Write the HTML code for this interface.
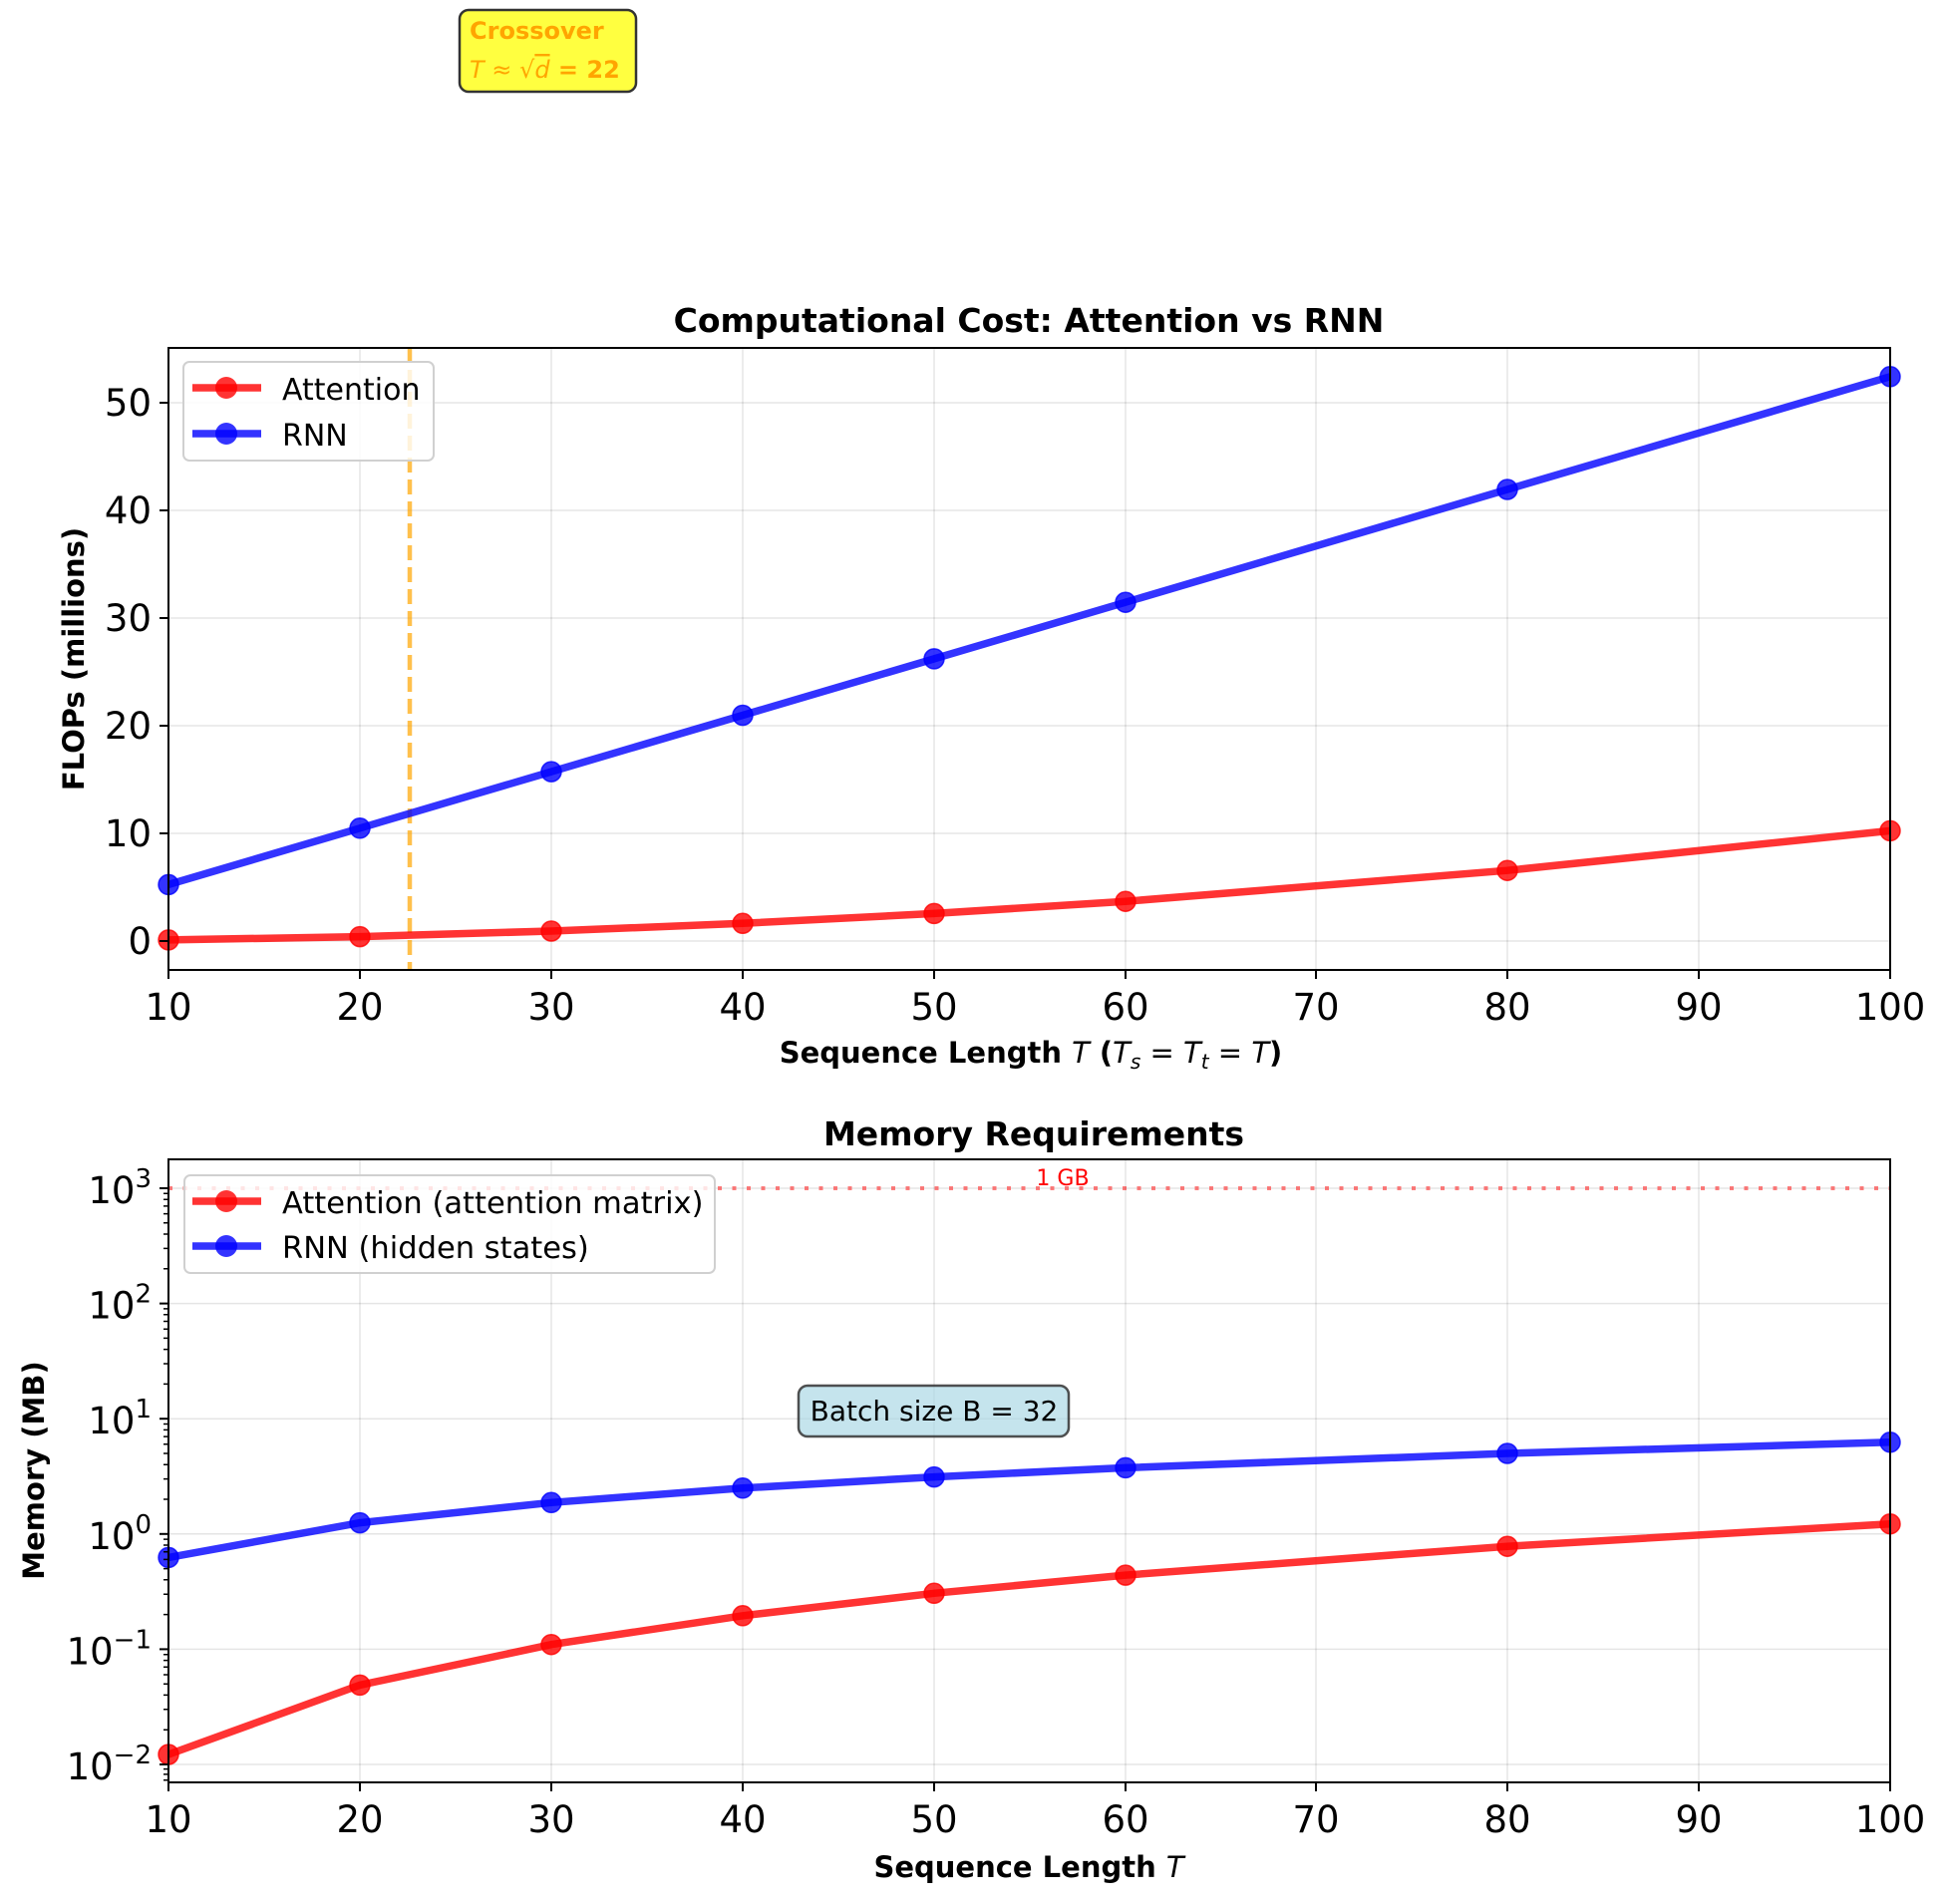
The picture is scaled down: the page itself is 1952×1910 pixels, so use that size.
<!DOCTYPE html>
<html><head><meta charset="utf-8"><style>
html,body{margin:0;padding:0;background:#fff}
svg{display:block;font-family:"DejaVu Sans","Liberation Sans",sans-serif}
</style></head><body>
<svg width="1952" height="1910" viewBox="0 0 1952 1910" xmlns="http://www.w3.org/2000/svg">
<rect width="1952" height="1910" fill="#fff"/>
<!-- Crossover box -->
<rect x="461" y="10" width="177" height="82" rx="9" fill="#ffff00" fill-opacity="0.75" stroke="#333" stroke-width="2.5"/>
<text x="471" y="39" font-size="24" font-weight="bold" fill="#FFA500">Crossover</text>
<text x="471" y="78" font-size="24" fill="#FFA500"><tspan font-style="italic">T</tspan> ≈ √<tspan font-style="italic" text-decoration="overline">d</tspan><tspan font-weight="bold"> = 22</tspan></text>

<!-- TOP AXES -->
<g stroke="#000" stroke-opacity="0.1" stroke-width="1.5">
<line x1="169" y1="349" x2="169" y2="973"/><line x1="361" y1="349" x2="361" y2="973"/><line x1="553" y1="349" x2="553" y2="973"/><line x1="745" y1="349" x2="745" y2="973"/><line x1="937" y1="349" x2="937" y2="973"/><line x1="1129" y1="349" x2="1129" y2="973"/><line x1="1320" y1="349" x2="1320" y2="973"/><line x1="1512" y1="349" x2="1512" y2="973"/><line x1="1704" y1="349" x2="1704" y2="973"/>
<line x1="169" y1="944" x2="1896" y2="944"/><line x1="169" y1="836" x2="1896" y2="836"/><line x1="169" y1="728" x2="1896" y2="728"/><line x1="169" y1="620" x2="1896" y2="620"/><line x1="169" y1="512" x2="1896" y2="512"/><line x1="169" y1="404" x2="1896" y2="404"/>
</g>
<line x1="411" y1="349" x2="411" y2="973" stroke="#FFA500" stroke-opacity="0.7" stroke-width="4.5" stroke-dasharray="15,7"/>
<g stroke-opacity="0.8" fill-opacity="0.8">
<polyline fill="none" stroke="#ff0000" stroke-width="7.5" points="169,942.9 361,939.6 553,934 745,926.3 937,916.4 1129,904.2 1512,873.2 1896,833.4"/>
<g fill="#ff0000" stroke="#ff0000" stroke-width="1.5"><circle cx="169" cy="942.9" r="10"/><circle cx="361" cy="939.6" r="10"/><circle cx="553" cy="934" r="10"/><circle cx="745" cy="926.3" r="10"/><circle cx="937" cy="916.4" r="10"/><circle cx="1129" cy="904.2" r="10"/><circle cx="1512" cy="873.2" r="10"/><circle cx="1896" cy="833.4" r="10"/></g>
<polyline fill="none" stroke="#0000ff" stroke-width="7.5" points="169,887.4 361,830.8 553,774.1 745,717.5 937,660.9 1129,604.2 1512,491 1896,377.8"/>
<g fill="#0000ff" stroke="#0000ff" stroke-width="1.5"><circle cx="169" cy="887.4" r="10"/><circle cx="361" cy="830.8" r="10"/><circle cx="553" cy="774.1" r="10"/><circle cx="745" cy="717.5" r="10"/><circle cx="937" cy="660.9" r="10"/><circle cx="1129" cy="604.2" r="10"/><circle cx="1512" cy="491" r="10"/><circle cx="1896" cy="377.8" r="10"/></g>
</g>
<rect x="169" y="349" width="1727" height="624" fill="none" stroke="#000" stroke-width="2"/>
<g stroke="#000" stroke-width="2">
<line x1="169" y1="973" x2="169" y2="982"/><line x1="361" y1="973" x2="361" y2="982"/><line x1="553" y1="973" x2="553" y2="982"/><line x1="745" y1="973" x2="745" y2="982"/><line x1="937" y1="973" x2="937" y2="982"/><line x1="1129" y1="973" x2="1129" y2="982"/><line x1="1320" y1="973" x2="1320" y2="982"/><line x1="1512" y1="973" x2="1512" y2="982"/><line x1="1704" y1="973" x2="1704" y2="982"/><line x1="1896" y1="973" x2="1896" y2="982"/>
<line x1="160" y1="944" x2="169" y2="944"/><line x1="160" y1="836" x2="169" y2="836"/><line x1="160" y1="728" x2="169" y2="728"/><line x1="160" y1="620" x2="169" y2="620"/><line x1="160" y1="512" x2="169" y2="512"/><line x1="160" y1="404" x2="169" y2="404"/>
</g>
<g font-size="37" text-anchor="middle">
<text x="169" y="1023">10</text><text x="361" y="1023">20</text><text x="553" y="1023">30</text><text x="745" y="1023">40</text><text x="937" y="1023">50</text><text x="1129" y="1023">60</text><text x="1320" y="1023">70</text><text x="1512" y="1023">80</text><text x="1704" y="1023">90</text><text x="1896" y="1023">100</text>
</g>
<g font-size="37" text-anchor="end">
<text x="152" y="957">0</text><text x="152" y="849">10</text><text x="152" y="741">20</text><text x="152" y="633">30</text><text x="152" y="525">40</text><text x="152" y="417">50</text>
</g>
<text x="1032" y="333" font-size="33" font-weight="bold" text-anchor="middle">Computational Cost: Attention vs RNN</text>
<text x="1034" y="1066" font-size="29" font-weight="bold" text-anchor="middle">Sequence Length <tspan font-weight="normal" font-style="italic">T</tspan> (<tspan font-weight="normal" font-style="italic">T<tspan font-size="20" dy="6">s</tspan><tspan dy="-6"> = T</tspan><tspan font-size="20" dy="6">t</tspan><tspan dy="-6"> = T</tspan></tspan>)</text>
<text transform="translate(84,661) rotate(-90)" font-size="29" font-weight="bold" text-anchor="middle">FLOPs (millions)</text>
<!-- legend top -->
<rect x="184" y="363" width="251" height="99" rx="6" fill="#fff" fill-opacity="0.8" stroke="#d0d0d0" stroke-width="2"/>
<line x1="193" y1="389" x2="262" y2="389" stroke="#ff0000" stroke-opacity="0.8" stroke-width="7.5"/><circle cx="227" cy="389" r="11" fill="#ff0000" fill-opacity="0.8"/>
<line x1="193" y1="435" x2="262" y2="435" stroke="#0000ff" stroke-opacity="0.8" stroke-width="7.5"/><circle cx="227" cy="435" r="11" fill="#0000ff" fill-opacity="0.8"/>
<text x="283" y="401" font-size="30">Attention</text>
<text x="283" y="447" font-size="30">RNN</text>

<!-- BOTTOM AXES -->
<g stroke="#000" stroke-opacity="0.1" stroke-width="1.5">
<line x1="169" y1="1163" x2="169" y2="1788"/><line x1="361" y1="1163" x2="361" y2="1788"/><line x1="553" y1="1163" x2="553" y2="1788"/><line x1="745" y1="1163" x2="745" y2="1788"/><line x1="937" y1="1163" x2="937" y2="1788"/><line x1="1129" y1="1163" x2="1129" y2="1788"/><line x1="1320" y1="1163" x2="1320" y2="1788"/><line x1="1512" y1="1163" x2="1512" y2="1788"/><line x1="1704" y1="1163" x2="1704" y2="1788"/>
<line x1="169" y1="1192" x2="1896" y2="1192"/><line x1="169" y1="1307.6" x2="1896" y2="1307.6"/><line x1="169" y1="1423.2" x2="1896" y2="1423.2"/><line x1="169" y1="1538.8" x2="1896" y2="1538.8"/><line x1="169" y1="1654.4" x2="1896" y2="1654.4"/><line x1="169" y1="1770" x2="1896" y2="1770"/>
</g>
<line x1="169" y1="1192" x2="1896" y2="1192" stroke="#ff0000" stroke-opacity="0.5" stroke-width="4" stroke-dasharray="4,10.5"/>
<text x="1066" y="1189" font-size="22" fill="#ff0000" text-anchor="middle">1 GB</text>
<g stroke-opacity="0.8" fill-opacity="0.8">
<polyline fill="none" stroke="#ff0000" stroke-width="7.5" points="169,1760 361,1690.4 553,1649.7 745,1620.8 937,1598.3 1129,1580.1 1512,1551.2 1896,1528.7"/>
<g fill="#ff0000" stroke="#ff0000" stroke-width="1.5"><circle cx="169" cy="1760" r="10"/><circle cx="361" cy="1690.4" r="10"/><circle cx="553" cy="1649.7" r="10"/><circle cx="745" cy="1620.8" r="10"/><circle cx="937" cy="1598.3" r="10"/><circle cx="1129" cy="1580.1" r="10"/><circle cx="1512" cy="1551.2" r="10"/><circle cx="1896" cy="1528.7" r="10"/></g>
<polyline fill="none" stroke="#0000ff" stroke-width="7.5" points="169,1562.4 361,1527.6 553,1507.3 745,1492.8 937,1481.6 1129,1472.4 1512,1458 1896,1446.8"/>
<g fill="#0000ff" stroke="#0000ff" stroke-width="1.5"><circle cx="169" cy="1562.4" r="10"/><circle cx="361" cy="1527.6" r="10"/><circle cx="553" cy="1507.3" r="10"/><circle cx="745" cy="1492.8" r="10"/><circle cx="937" cy="1481.6" r="10"/><circle cx="1129" cy="1472.4" r="10"/><circle cx="1512" cy="1458" r="10"/><circle cx="1896" cy="1446.8" r="10"/></g>
</g>
<rect x="801" y="1390" width="271" height="51" rx="9" fill="#add8e6" fill-opacity="0.7" stroke="#333" stroke-opacity="0.85" stroke-width="2.5"/>
<text x="937" y="1425" font-size="28" text-anchor="middle">Batch size B = 32</text>
<rect x="169" y="1163" width="1727" height="625" fill="none" stroke="#000" stroke-width="2"/>
<g stroke="#000" stroke-width="2">
<line x1="169" y1="1788" x2="169" y2="1797"/><line x1="361" y1="1788" x2="361" y2="1797"/><line x1="553" y1="1788" x2="553" y2="1797"/><line x1="745" y1="1788" x2="745" y2="1797"/><line x1="937" y1="1788" x2="937" y2="1797"/><line x1="1129" y1="1788" x2="1129" y2="1797"/><line x1="1320" y1="1788" x2="1320" y2="1797"/><line x1="1512" y1="1788" x2="1512" y2="1797"/><line x1="1704" y1="1788" x2="1704" y2="1797"/><line x1="1896" y1="1788" x2="1896" y2="1797"/>
<line x1="160" y1="1192" x2="169" y2="1192"/><line x1="160" y1="1307.6" x2="169" y2="1307.6"/><line x1="160" y1="1423.2" x2="169" y2="1423.2"/><line x1="160" y1="1538.8" x2="169" y2="1538.8"/><line x1="160" y1="1654.4" x2="169" y2="1654.4"/><line x1="160" y1="1770" x2="169" y2="1770"/>
</g>
<g stroke="#000" stroke-width="1.5">
<path d="M164 1272.8h5M164 1252.4h5M164 1238h5M164 1226.8h5M164 1217.6h5M164 1209.9h5M164 1203.2h5M164 1197.3h5
M164 1388.4h5M164 1368h5M164 1353.6h5M164 1342.4h5M164 1333.2h5M164 1325.5h5M164 1318.8h5M164 1312.9h5
M164 1504h5M164 1483.6h5M164 1469.2h5M164 1458h5M164 1448.8h5M164 1441.1h5M164 1434.4h5M164 1428.5h5
M164 1619.6h5M164 1599.2h5M164 1584.8h5M164 1573.6h5M164 1564.4h5M164 1556.7h5M164 1550h5M164 1544.1h5
M164 1735.2h5M164 1714.8h5M164 1700.4h5M164 1689.2h5M164 1680h5M164 1672.3h5M164 1665.6h5M164 1659.7h5
M164 1785.7h5M164 1779.9h5M164 1774.6h5"/>
</g>
<g font-size="37" text-anchor="middle">
<text x="169" y="1838">10</text><text x="361" y="1838">20</text><text x="553" y="1838">30</text><text x="745" y="1838">40</text><text x="937" y="1838">50</text><text x="1129" y="1838">60</text><text x="1320" y="1838">70</text><text x="1512" y="1838">80</text><text x="1704" y="1838">90</text><text x="1896" y="1838">100</text>
</g>
<g font-size="37" text-anchor="end">
<text x="152" y="1207">10<tspan font-size="26" dy="-16">3</tspan></text>
<text x="152" y="1322.6">10<tspan font-size="26" dy="-16">2</tspan></text>
<text x="152" y="1438.2">10<tspan font-size="26" dy="-16">1</tspan></text>
<text x="152" y="1553.8">10<tspan font-size="26" dy="-16">0</tspan></text>
<text x="152" y="1669.4">10<tspan font-size="26" dy="-16">−1</tspan></text>
<text x="152" y="1785">10<tspan font-size="26" dy="-16">−2</tspan></text>
</g>
<text x="1037" y="1149" font-size="33" font-weight="bold" text-anchor="middle">Memory Requirements</text>
<text x="1032" y="1883" font-size="29" font-weight="bold" text-anchor="middle">Sequence Length <tspan font-weight="normal" font-style="italic">T</tspan></text>
<text transform="translate(44,1475) rotate(-90)" font-size="29" font-weight="bold" text-anchor="middle">Memory (MB)</text>
<!-- legend bottom -->
<rect x="185" y="1179" width="532" height="98" rx="6" fill="#fff" fill-opacity="0.8" stroke="#d0d0d0" stroke-width="2"/>
<line x1="193" y1="1205" x2="262" y2="1205" stroke="#ff0000" stroke-opacity="0.8" stroke-width="7.5"/><circle cx="227" cy="1205" r="11" fill="#ff0000" fill-opacity="0.8"/>
<line x1="193" y1="1250" x2="262" y2="1250" stroke="#0000ff" stroke-opacity="0.8" stroke-width="7.5"/><circle cx="227" cy="1250" r="11" fill="#0000ff" fill-opacity="0.8"/>
<text x="283" y="1217" font-size="30.5">Attention (attention matrix)</text>
<text x="283" y="1262" font-size="30.5">RNN (hidden states)</text>
</svg>
</body></html>
